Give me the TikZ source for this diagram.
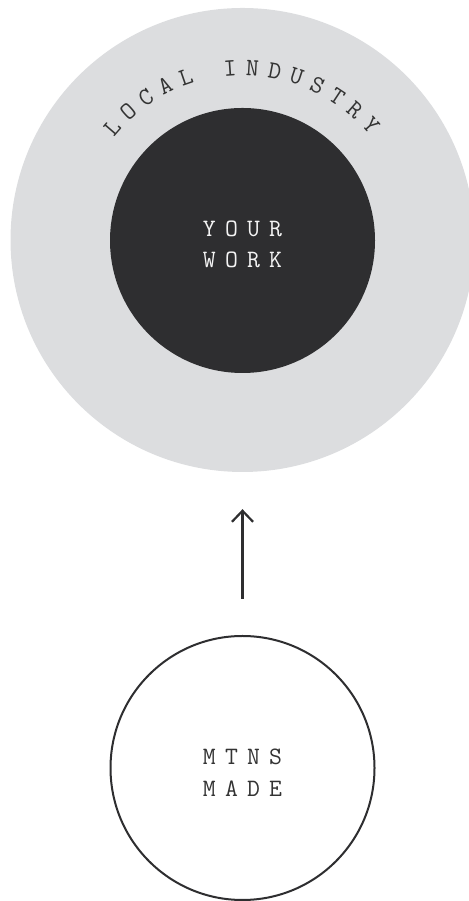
\documentclass[tikz,border=0pt]{standalone}
\usepackage{fontspec}
\usetikzlibrary{arrows.meta}
\definecolor{ringgrey}{HTML}{DCDDDF}
\definecolor{coredark}{HTML}{2E2E30}
\definecolor{inkdark}{HTML}{333333}
\definecolor{inklight}{HTML}{F4F4F4}
\newcommand\lsp{\kern9.2pt}
\begin{document}
\begin{tikzpicture}[x=1pt,y=1pt,
  lbl/.style={font=\ttfamily\fontsize{25}{25}\selectfont\addfontfeatures{FakeBold=0.8}, inner sep=0pt, anchor=base},
  disc/.style={circle, inner sep=0pt},
  link/.style={line width=2.2pt, draw=coredark,
    -{Straight Barb[length=11pt, width=21pt, line width=2.2pt]}}]
\useasboundingbox (0,0) rectangle (468,901);
% outer ring
\node[disc, fill=ringgrey, minimum size=464pt] (industry) at (242.5,661) {};
% inner core
\node[disc, fill=coredark, minimum size=265pt] (work) at (242.5,660.5) {};
% bottom circle
\node[disc, draw=coredark, line width=2pt, fill=white, minimum size=264pt] (mtns) at (242.5,133) {};
% arc label
\foreach \ch/\k in {L/0,O/1,C/2,A/3,L/4,I/6,N/7,D/8,U/9,S/10,T/11,R/12,Y/13}{
  \pgfmathsetmacro\ang{90.4+(6.5-\k)*7.5}
  \node[lbl, text=inkdark, rotate=\ang-90] (arc\k) at ([shift={(\ang:164.5)}]industry.center) {\ch};
}
% core text
\node[lbl, text=inklight] (your) at ([yshift=3.8pt]work.center) {Y\lsp O\lsp U\lsp R};
\node[lbl, text=inklight] (workt) at ([yshift=-27.2pt]work.center) {W\lsp O\lsp R\lsp K};
% bottom text
\node[lbl, text=inkdark] (mtnst) at ([yshift=3pt]mtns.center) {M\lsp T\lsp N\lsp S};
\node[lbl, text=inkdark] (made) at ([yshift=-29pt]mtns.center) {M\lsp A\lsp D\lsp E};
% arrow
\draw[link, shorten <=36pt, shorten >=37pt] (mtns) -- (industry);
\end{tikzpicture}
\end{document}
